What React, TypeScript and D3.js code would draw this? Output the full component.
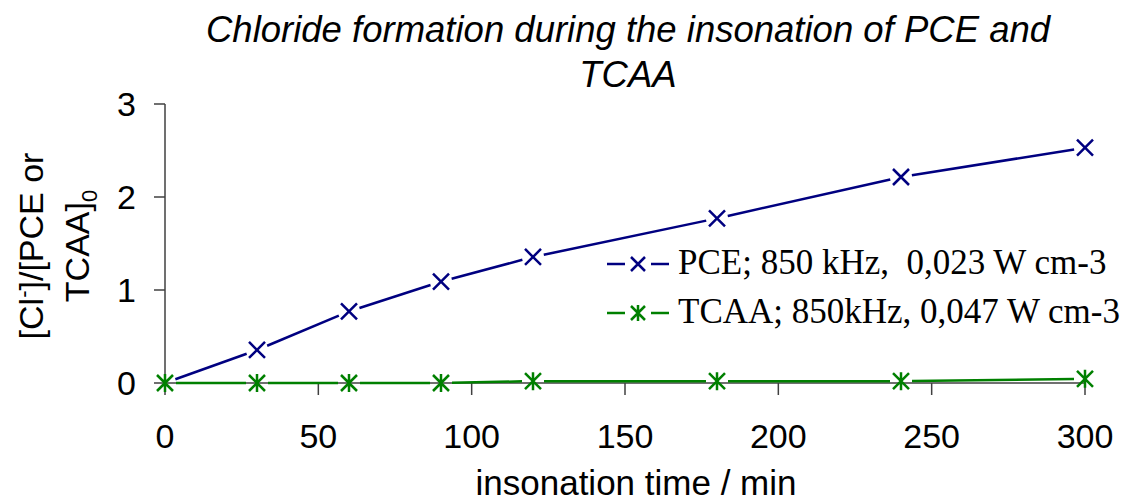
import React from "react";
import * as d3 from "d3";

const times = [0, 30, 60, 90, 120, 180, 240, 300];
const pceValues = [0, 0.355, 0.77, 1.09, 1.355, 1.77, 2.215, 2.53];
const tcaaValues = [0, 0, 0, 0, 0.02, 0.02, 0.02, 0.045];
const xTicks = [0, 50, 100, 150, 200, 250, 300];
const yTicks = [0, 1, 2, 3];
const seriesNames = ["PCE; 850 kHz,  0,023 W cm-3", "TCAA; 850kHz, 0,047 W cm-3"];
const titleLines = ["Chloride formation during the insonation of PCE and", "TCAA"];
const xTitle = "insonation time / min";

const W = 1129, H = 497;
const sans = "Arial, 'Liberation Sans', sans-serif";
const serif = "'Times New Roman', 'Liberation Serif', serif";
const PCE = "#000080";
const TCAA = "#008000";

function gappedSegments(pts: [number, number][], gap: number) {
  const segs: [number, number, number, number][] = [];
  for (let i = 0; i < pts.length - 1; i++) {
    const [x1, y1] = pts[i];
    const [x2, y2] = pts[i + 1];
    const dx = x2 - x1, dy = y2 - y1;
    const len = Math.hypot(dx, dy);
    if (len <= 2 * gap) continue;
    const ux = dx / len, uy = dy / len;
    segs.push([x1 + ux * gap, y1 + uy * gap, x2 - ux * gap, y2 - uy * gap]);
  }
  return segs;
}

function XMark({ x, y, c, s = 8 }: { x: number; y: number; c: string; s?: number }) {
  return (
    <path d={`M${x - s},${y - s}L${x + s},${y + s}M${x - s},${y + s}L${x + s},${y - s}`} stroke={c} strokeWidth={2.5} fill="none" />
  );
}
function StarMark({ x, y, c, s = 8 }: { x: number; y: number; c: string; s?: number }) {
  return (
    <path d={`M${x - s},${y - s}L${x + s},${y + s}M${x - s},${y + s}L${x + s},${y - s}M${x},${y - s - 1}L${x},${y + s + 1}`} stroke={c} strokeWidth={2.5} fill="none" />
  );
}

export default function App() {
  const x = d3.scaleLinear().domain([0, 300]).range([165, 1085]);
  const y = d3.scaleLinear().domain([0, 3]).range([383, 104]);
  const pcePts = times.map((t, i) => [x(t), y(pceValues[i])] as [number, number]);
  const tcaaPts = times.map((t, i) => [x(t), y(tcaaValues[i])] as [number, number]);
  const axisC = "#404040";
  return (
    <svg width={W} height={H} style={{ position: "absolute", left: 0, top: 0, background: "#fff" }}>
      <rect width={W} height={H} fill="#fff" />
      {titleLines.map((t, i) => (
        <text key={i} x={628} y={42 + i * 45} textAnchor="middle" fontFamily={sans} fontStyle="italic" fontSize={36.5}>{t}</text>
      ))}
      {/* axes */}
      <line x1={x(0)} x2={x(0)} y1={y(3)} y2={y(0)} stroke={axisC} strokeWidth={1.5} />
      <line x1={x(0)} x2={x(300)} y1={y(0)} y2={y(0)} stroke={axisC} strokeWidth={1.5} />
      {yTicks.map(v => (
        <g key={v}>
          <line x1={x(0) - 11} x2={x(0)} y1={y(v)} y2={y(v)} stroke={axisC} strokeWidth={1.5} />
          <text x={136} y={y(v) + 12} textAnchor="end" fontFamily={sans} fontSize={34}>{v}</text>
        </g>
      ))}
      {xTicks.map(v => (
        <g key={v}>
          <line x1={x(v)} x2={x(v)} y1={y(0)} y2={y(0) + 12} stroke={axisC} strokeWidth={1.5} />
          <text x={x(v)} y={448} textAnchor="middle" fontFamily={sans} fontSize={34}>{v}</text>
        </g>
      ))}
      <text x={636} y={495} textAnchor="middle" fontFamily={sans} fontSize={35}>{xTitle}</text>
      <g transform="translate(43,246) rotate(-90)" fontFamily={sans} fontSize={34}>
        <text x={0} y={0} textAnchor="middle">[Cl<tspan dy={-12} fontSize={22}>-</tspan><tspan dy={12}>]/[PCE or</tspan></text>
        <text x={0} y={46} textAnchor="middle">TCAA]<tspan dy={8} fontSize={22}>0</tspan></text>
      </g>
      {/* series */}
      {gappedSegments(tcaaPts, 11).map((s, i) => (
        <line key={"t" + i} x1={s[0]} y1={s[1]} x2={s[2]} y2={s[3]} stroke={TCAA} strokeWidth={2.5} />
      ))}
      {gappedSegments(pcePts, 11).map((s, i) => (
        <line key={"p" + i} x1={s[0]} y1={s[1]} x2={s[2]} y2={s[3]} stroke={PCE} strokeWidth={2.5} />
      ))}
      {pcePts.slice(1).map((p, i) => <XMark key={"pm" + i} x={p[0]} y={p[1]} c={PCE} />)}
      {tcaaPts.map((p, i) => <StarMark key={"tm" + i} x={p[0]} y={p[1]} c={TCAA} />)}
      {/* legend */}
      {[0, 1].map(i => {
        const ly = 264 + i * 49;
        const c = i === 0 ? PCE : TCAA;
        return (
          <g key={"lg" + i}>
            <line x1={607} x2={625} y1={ly} y2={ly} stroke={c} strokeWidth={2.5} />
            <line x1={651} x2={669} y1={ly} y2={ly} stroke={c} strokeWidth={2.5} />
            {i === 0 ? <XMark x={638} y={ly} c={c} s={7} /> : <StarMark x={638} y={ly} c={c} s={7} />}
            <text x={678} y={ly + 10} fontFamily={serif} fontSize={35} style={{ whiteSpace: "pre" }}>{seriesNames[i]}</text>
          </g>
        );
      })}
    </svg>
  );
}
